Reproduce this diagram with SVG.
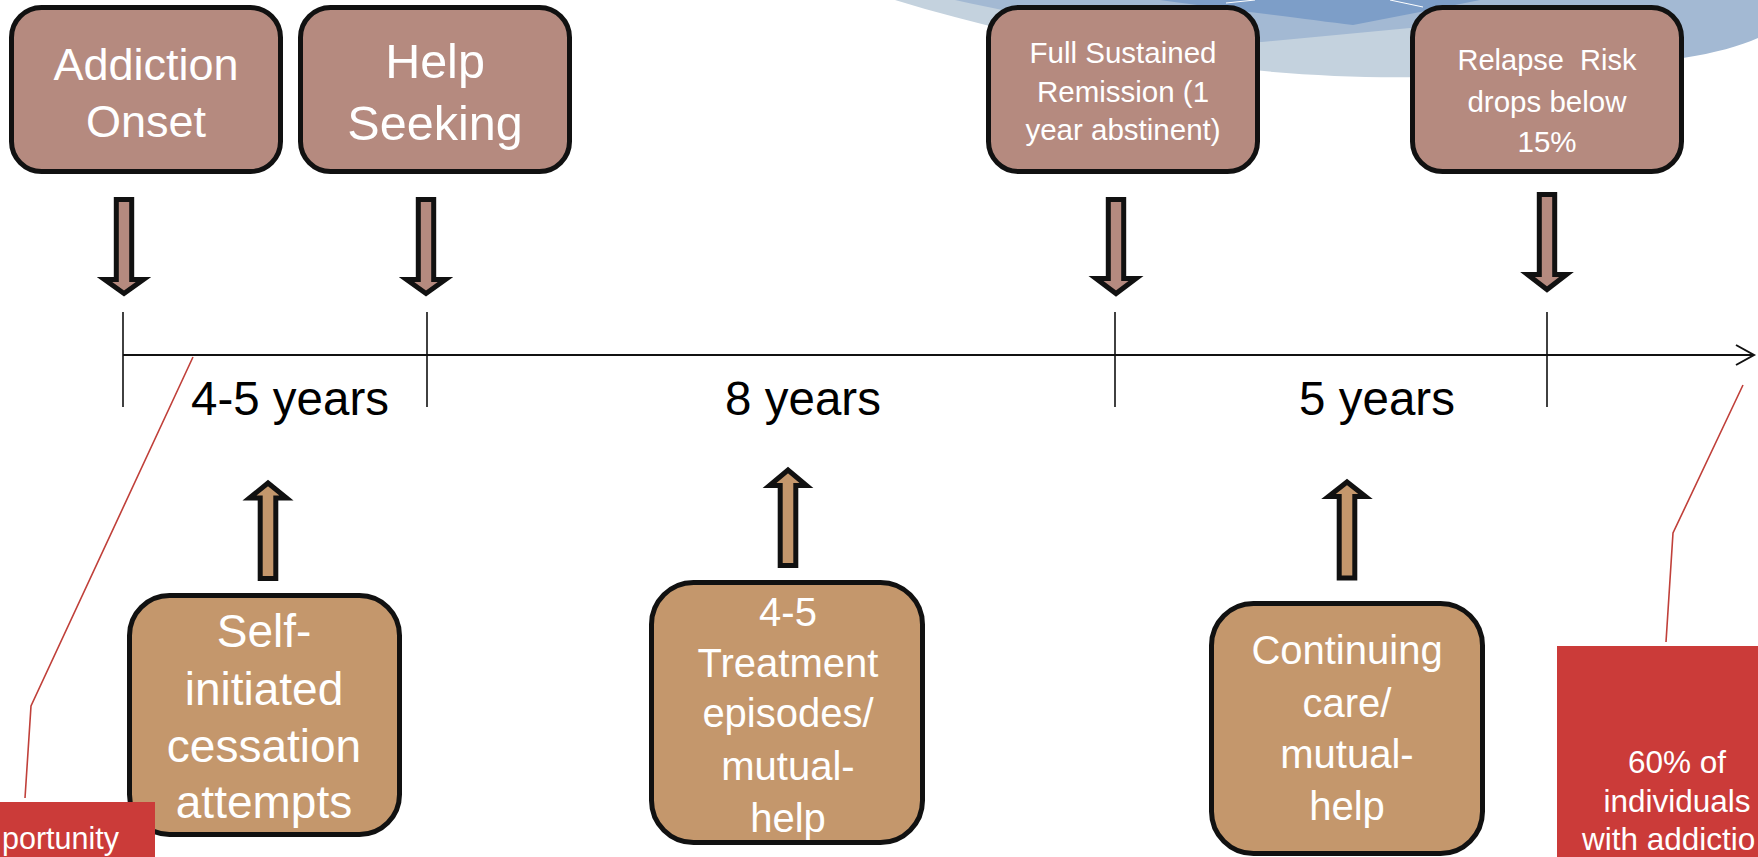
<svg xmlns="http://www.w3.org/2000/svg" width="1758" height="857" viewBox="0 0 1758 857">
<style>
  .bg { stroke: none; }
  .topbox { fill: #B58A7F; stroke: #111111; stroke-width: 5; }
  .botbox { fill: #C4976C; stroke: #111111; stroke-width: 5; }
  .darr { fill: #B58A7F; stroke: #111111; stroke-width: 5; stroke-linejoin: miter; stroke-miterlimit: 10; }
  .uarr { fill: #C4976C; stroke: #111111; stroke-width: 5; stroke-linejoin: miter; stroke-miterlimit: 10; }
  .wt { font-family: "Liberation Sans", Arial, sans-serif; fill: #FFFFFF; text-anchor: middle; }
  .bt { font-family: "Liberation Sans", Arial, sans-serif; fill: #000000; text-anchor: middle; font-size: 47.5px; }
  .axis { stroke: #111111; stroke-width: 2; fill: none; }
  .tick { stroke: #111111; stroke-width: 1.6; fill: none; }
  .callout { stroke: #C0403A; stroke-width: 1.6; fill: none; }
  .redbox { fill: #CB3B39; }
</style>

<!-- decorative background arcs -->
<g id="background">
  <path class="bg" fill="#C4D2DE" d="M 895,0 C 1065,52 1260,80 1420,77 C 1560,74 1650,62 1700,45 L 1700,0 Z"/>
  <path class="bg" fill="#A3B9D3" d="M 955,0 C 1080,28 1200,44 1262,42 L 1410,28 L 1600,62 L 1683,58 C 1715,53 1740,46 1758,38 L 1758,0 Z"/>
  <path class="bg" fill="#7D9EC8" d="M 1160,0 C 1250,12 1310,20 1353,25 L 1420,12 L 1480,0 Z"/>
  <line x1="1226" y1="3" x2="1255" y2="0" stroke="#FFFFFF" stroke-width="1"/>
  <line x1="1390" y1="0" x2="1423" y2="7" stroke="#FFFFFF" stroke-width="1"/>
</g>

<!-- connectors: timeline, ticks, block arrows, callout lines -->
<g id="connectors">
  <line class="axis" x1="123" y1="355" x2="1753" y2="355"/>
  <polyline class="axis" points="1736,345 1754,355 1736,365"/>
  <line class="tick" x1="123" y1="312" x2="123" y2="407"/>
  <line class="tick" x1="427" y1="312" x2="427" y2="407"/>
  <line class="tick" x1="1115" y1="312" x2="1115" y2="407"/>
  <line class="tick" x1="1547" y1="312" x2="1547" y2="407"/>

  <path class="darr" d="M 116.3,199.5 H 131.7 V 279.5 H 143.5 L 124,293.5 L 104.5,279.5 H 116.3 Z"/>
  <path class="darr" d="M 418.3,199.5 H 433.7 V 279.5 H 445.5 L 426,293.5 L 406.5,279.5 H 418.3 Z"/>
  <path class="darr" d="M 1108.3,199.5 H 1123.7 V 278.5 H 1136 L 1116,293.5 L 1096,278.5 H 1108.3 Z"/>
  <path class="darr" d="M 1539.3,194.5 H 1554.7 V 274.5 H 1566.5 L 1547,289.5 L 1527.5,274.5 H 1539.3 Z"/>

  <path class="uarr" d="M 260.2,578.5 H 275.8 V 498 H 286.5 L 268,483 L 249.5,498 H 260.2 Z"/>
  <path class="uarr" d="M 780.2,565.5 H 795.8 V 485.5 H 806.5 L 788,470 L 769.5,485.5 H 780.2 Z"/>
  <path class="uarr" d="M 1339.2,578 H 1354.8 V 496.5 H 1365.5 L 1347,482 L 1328.5,496.5 H 1339.2 Z"/>

  <polyline class="callout" points="193,357 31,706 25,798"/>
  <polyline class="callout" points="1743,385 1673,533 1666,642"/>
</g>

<g id="addiction-onset">
  <rect class="topbox" x="11.5" y="7.5" width="269" height="164" rx="30"/>
  <text class="wt" x="146" y="80" font-size="45">Addiction</text>
  <text class="wt" x="146" y="137" font-size="45">Onset</text>
</g>

<g id="help-seeking">
  <rect class="topbox" x="300.5" y="7.5" width="269" height="164" rx="30"/>
  <text class="wt" x="435" y="78" font-size="48.5">Help</text>
  <text class="wt" x="435" y="140" font-size="48.5">Seeking</text>
</g>

<g id="full-sustained-remission">
  <rect class="topbox" x="988.5" y="7.5" width="269" height="164" rx="30"/>
  <text class="wt" x="1123" y="63" font-size="29.5">Full Sustained</text>
  <text class="wt" x="1123" y="102" font-size="29.5">Remission (1</text>
  <text class="wt" x="1123" y="140" font-size="29.5">year abstinent)</text>
</g>

<g id="relapse-risk">
  <rect class="topbox" x="1412.5" y="7.5" width="269" height="164" rx="30"/>
  <text class="wt" x="1547" y="70" font-size="29" xml:space="preserve">Relapse  Risk</text>
  <text class="wt" x="1547" y="112" font-size="29.5">drops below</text>
  <text class="wt" x="1547" y="152" font-size="29.5">15%</text>
</g>

<g id="label-4-5-years">
  <text class="bt" x="290" y="415">4-5 years</text>
</g>
<g id="label-8-years">
  <text class="bt" x="803" y="415">8 years</text>
</g>
<g id="label-5-years">
  <text class="bt" x="1377" y="415">5 years</text>
</g>

<g id="self-initiated">
  <rect class="botbox" x="129.5" y="595.5" width="270" height="239" rx="40"/>
  <text class="wt" x="264" y="647" font-size="46">Self-</text>
  <text class="wt" x="264" y="705" font-size="46">initiated</text>
  <text class="wt" x="264" y="762" font-size="46">cessation</text>
  <text class="wt" x="264" y="818" font-size="46">attempts</text>
</g>

<g id="treatment-episodes">
  <rect class="botbox" x="651.5" y="582.5" width="271" height="260" rx="42"/>
  <text class="wt" x="788" y="626" font-size="40">4-5</text>
  <text class="wt" x="788" y="677" font-size="40">Treatment</text>
  <text class="wt" x="788" y="727" font-size="40">episodes/</text>
  <text class="wt" x="788" y="780" font-size="40">mutual-</text>
  <text class="wt" x="788" y="832" font-size="40">help</text>
</g>

<g id="continuing-care">
  <rect class="botbox" x="1211.5" y="603.5" width="271" height="250" rx="42"/>
  <text class="wt" x="1347" y="664" font-size="40">Continuing</text>
  <text class="wt" x="1347" y="717" font-size="40">care/</text>
  <text class="wt" x="1347" y="768" font-size="40">mutual-</text>
  <text class="wt" x="1347" y="820" font-size="40">help</text>
</g>

<g id="callout-left">
  <rect class="redbox" x="-10" y="802" width="165" height="70"/>
  <text class="wt" x="119" y="849" font-size="30.5" style="text-anchor:end">portunity</text>
</g>

<g id="callout-right">
  <rect class="redbox" x="1557" y="646" width="211" height="220"/>
  <text class="wt" x="1677" y="773" font-size="31.5">60% of</text>
  <text class="wt" x="1677" y="812" font-size="31.5">individuals</text>
  <text class="wt" x="1582" y="850" font-size="31.5" style="text-anchor:start">with addictio</text>
</g>
</svg>
